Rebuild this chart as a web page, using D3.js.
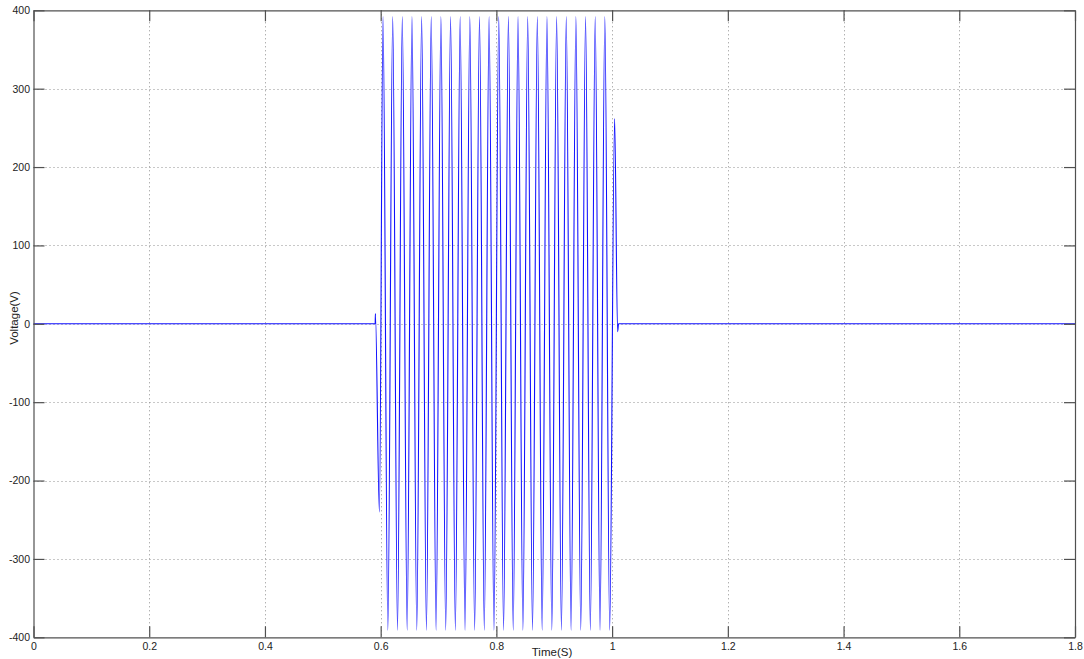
<!DOCTYPE html>
<html>
<head>
<meta charset="utf-8">
<script src="https://cdn.jsdelivr.net/npm/d3@7"></script>
<style>
html,body{margin:0;padding:0;background:#fff;}
svg{display:block;}
text{font-family:"Liberation Sans",Arial,sans-serif;fill:#222;}
</style>
</head>
<body>
<svg id="chart" width="1084" height="659"></svg>
<script>
// ---- data ----
const xTicks = [0, 0.2, 0.4, 0.6, 0.8, 1, 1.2, 1.4, 1.6, 1.8];
const xTickLabels = ["0", "0.2", "0.4", "0.6", "0.8", "1", "1.2", "1.4", "1.6", "1.8"];
const yTicks = [-400, -300, -200, -100, 0, 100, 200, 300, 400];
const yTickLabels = ["-400", "-300", "-200", "-100", "0", "100", "200", "300", "400"];

// waveform breakpoints: time (s) and voltage (V), including every peak and trough
const waveT = [
  0, 0.5905, 0.5909, 0.5978,
  0.6041, 0.6124, 0.6208, 0.6291, 0.6374, 0.6458, 0.6541, 0.6624,
  0.6708, 0.6791, 0.6874, 0.6958, 0.7041, 0.7124, 0.7208, 0.7291,
  0.7374, 0.7458, 0.7541, 0.7624, 0.7708, 0.7791, 0.7874, 0.7958,
  0.8041, 0.8124, 0.8208, 0.8291, 0.8374, 0.8458, 0.8541, 0.8624,
  0.8708, 0.8791, 0.8874, 0.8958, 0.9041, 0.9124, 0.9208, 0.9291,
  0.9374, 0.9458, 0.9541, 0.9624, 0.9708, 0.9791, 0.9874, 0.9958,
  1.0043, 1.0095, 1.0112, 1.8
];
const waveV = [
  0, 0, 13, -240,
  392, -391, 392, -391, 392, -391, 392, -391,
  392, -391, 392, -391, 392, -391, 392, -391,
  392, -391, 392, -391, 392, -391, 392, -391,
  392, -391, 392, -391, 392, -391, 392, -391,
  392, -391, 392, -391, 392, -391, 392, -391,
  392, -391, 392, -391, 392, -391, 392, -391,
  262, -10, 0, 0
];
const xTitle = "Time(S)";
const yTitle = "Voltage(V)";

// ---- layout ----
const L = 33.5, R = 1075, T = 10.3, B = 637.3;
const svg = d3.select("#chart");
const x = d3.scaleLinear().domain([0, 1.8]).range([L, R]);
const y = d3.scaleLinear().domain([-400, 400]).range([B, T]);

svg.append("rect").attr("width", 1084).attr("height", 659).attr("fill", "#fff");

// grid
const grid = svg.append("g").attr("stroke", "#909090").attr("stroke-width", 1)
  .attr("stroke-dasharray", "1,3").attr("fill", "none");
grid.selectAll("line.vx").data(xTicks.slice(1, -1)).join("line")
  .attr("x1", d => Math.round(x(d)) + 0.5).attr("x2", d => Math.round(x(d)) + 0.5)
  .attr("y1", T).attr("y2", B);
grid.selectAll("line.hy").data(yTicks.slice(1, -1)).join("line")
  .attr("x1", L).attr("x2", R)
  .attr("y1", d => Math.round(y(d)) + 0.5).attr("y2", d => Math.round(y(d)) + 0.5);

// signal
const pts = waveT.map((t, i) => [t, waveV[i]]);
const line = d3.line().x(d => x(d[0])).y(d => y(d[1])).curve(d3.curveMonotoneX);
svg.append("path").datum(pts).attr("d", line)
  .attr("fill", "none").attr("stroke", "#1010ff").attr("stroke-width", 1.1);

// axes (MATLAB-style inner ticks, box)
const tickLen = 11;
const axB = d3.axisBottom(x).tickValues(xTicks).tickFormat((d, i) => xTickLabels[i])
  .tickSizeInner(-tickLen).tickSizeOuter(0).tickPadding(5);
const axT = d3.axisTop(x).tickValues(xTicks).tickFormat("").tickSizeInner(-tickLen).tickSizeOuter(0);
const axL = d3.axisLeft(y).tickValues(yTicks).tickFormat((d, i) => yTickLabels[i])
  .tickSizeInner(-tickLen).tickSizeOuter(0).tickPadding(3.5);
const axR = d3.axisRight(y).tickValues(yTicks).tickFormat("").tickSizeInner(-tickLen).tickSizeOuter(0);

function style(g) {
  g.selectAll(".domain").attr("stroke", "#505050").attr("stroke-width", 1.2);
  g.selectAll(".tick line").attr("stroke", "#505050").attr("stroke-width", 1.2);
  g.selectAll(".tick text").attr("font-family", "'Liberation Sans', Arial, sans-serif")
    .attr("font-size", 10.5).attr("fill", "#222");
}
svg.append("g").attr("transform", `translate(0,${B})`).call(axB).call(style);
svg.append("g").attr("transform", `translate(0,${T})`).call(axT).call(style);
svg.append("g").attr("transform", `translate(${L},0)`).call(axL).call(style);
svg.append("g").attr("transform", `translate(${R},0)`).call(axR).call(style);

// titles
svg.append("text").attr("x", 552).attr("y", 656).attr("text-anchor", "middle")
  .attr("font-size", 11.5).text(xTitle);
svg.append("text").attr("transform", "translate(18,318) rotate(-90)").attr("text-anchor", "middle")
  .attr("font-size", 11.5).text(yTitle);
</script>
</body>
</html>
